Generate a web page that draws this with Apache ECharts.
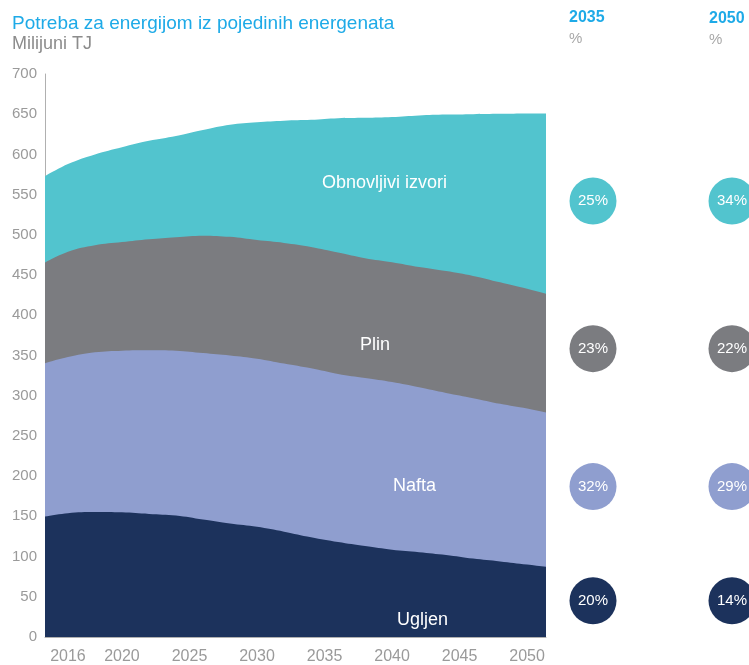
<!DOCTYPE html>
<html>
<head>
<meta charset="utf-8">
<script src="https://cdn.jsdelivr.net/npm/echarts@6/dist/echarts.min.js"></script>
<style>
  html, body { margin: 0; padding: 0; background: #fff; }
  #chart { width: 749px; height: 665px; }
</style>
</head>
<body>
<div id="chart"></div>
<script>
// godine (prva i zadnja točka izlaze malo izvan osi i odrežu se)
var years = [2014, 2016, 2018, 2020, 2022, 2024, 2026, 2028, 2030, 2032, 2034, 2036, 2038, 2040, 2042, 2044, 2046, 2048, 2050, 2052];
var ugljen = [149, 154, 155.5, 155, 153, 151, 146, 141, 137, 131, 124, 118, 113, 108.5, 105.5, 102, 97.5, 94, 90, 86];
var nafta = [190, 194, 198.5, 201, 203.5, 205, 207, 209, 209, 209, 210, 209, 209, 208.5, 205, 201.5, 199.5, 196, 194, 191];
var plin = [124, 131, 133, 135, 138, 141, 146, 147.5, 147.5, 150, 151, 151, 149, 149, 149.5, 151.5, 152, 151, 149, 147];
var obnovljivi = [107, 109, 113, 118, 122.5, 126, 131.5, 139.5, 146.5, 152, 158, 167, 174.5, 180.5, 188.5, 194.5, 201, 209.5, 218, 227];
var xTicks = [2016, 2020, 2025, 2030, 2035, 2040, 2045, 2050];
var pctYears = ['2035', '2050'];
var pct2035 = [20, 32, 23, 25]; // ugljen, nafta, plin, obnovljivi
var pct2050 = [14, 29, 22, 34];

var names = ['Ugljen', 'Nafta', 'Plin', 'Obnovljivi izvori'];
var layers = [ugljen, nafta, plin, obnovljivi];
var colors = ['#1c325c', '#8f9ecf', '#7b7c80', '#52c4ce'];
var font = '"Liberation Sans", Arial, sans-serif';

var myChart = echarts.init(document.getElementById('chart'));

// zbrojevi slojeva (gornji rub svakog sloja)
var cum = [];
layers.forEach(function (arr, i) {
    cum.push(arr.map(function (v, k) { return v + (i > 0 ? cum[i - 1][k] : 0); }));
});

var series = [];
// crtamo odozgo prema dolje, svaki sloj puni do nule
for (var i = layers.length - 1; i >= 0; i--) {
    series.push({
        name: names[i],
        type: 'line',
        smooth: 0.4,
        showSymbol: false,
        lineStyle: { width: 0 },
        areaStyle: { color: colors[i], opacity: 1 },
        itemStyle: { color: colors[i] },
        data: years.map(function (y, k) { return [y, cum[i][k]]; })
    });
}

// krugovi desno: visina = sredina sloja u 2050.
var idx = years.indexOf(2050);
layers.forEach(function (arr, i) {
    var mid = cum[i][idx] - arr[idx] / 2;
    series.push({
        type: 'scatter',
        xAxisIndex: 1,
        yAxisIndex: 1,
        symbolSize: 47,
        itemStyle: { color: colors[i], opacity: 1 },
        label: {
            show: true,
            position: 'inside',
            color: '#fff',
            fontFamily: font,
            fontSize: 15,
            formatter: function (p) { return p.value[2] + '%'; }
        },
        data: [[0, mid, pct2035[i]], [1, mid, pct2050[i]]]
    });
});

function txt(x, y, text, size, color, weight) {
    return {
        type: 'text', left: x, top: y, z: 10,
        style: {
            text: text, fill: color, fontSize: size, fontFamily: font,
            fontWeight: weight || 'normal'
        }
    };
}

myChart.setOption({
    backgroundColor: '#FFFFFF',
    animation: false,
    grid: [
        { left: 45, right: 203, top: 74, bottom: 28 },
        { left: 593, right: 17, top: 74, bottom: 28 }
    ],
    xAxis: [
        {
            type: 'value',
            min: 2014.3,
            max: 2051.4,
            splitLine: { show: false },
            axisTick: { show: false },
            axisLine: { show: true, lineStyle: { color: '#b0b0b0' } },
            axisLabel: {
                customValues: xTicks,
                color: '#9a9a9a',
                fontFamily: font,
                fontSize: 16,
                margin: 12,
                formatter: function (v) { return String(v); }
            }
        },
        {
            type: 'category',
            gridIndex: 1,
            boundaryGap: false,
            data: pctYears,
            show: false
        }
    ],
    yAxis: [
        {
            type: 'value',
            min: 0,
            max: 700,
            interval: 50,
            splitLine: { show: false },
            axisTick: { show: false },
            axisLine: { show: true, lineStyle: { color: '#b0b0b0' } },
            axisLabel: {
                color: '#9a9a9a',
                fontFamily: font,
                fontSize: 15,
                margin: 8
            }
        },
        { type: 'value', gridIndex: 1, min: 0, max: 700, show: false }
    ],
    graphic: [
        txt(12, 14, 'Potreba za energijom iz pojedinih energenata', 19, '#1eaae7'),
        txt(12, 35, 'Milijuni TJ', 18, '#8c8c8c'),
        txt(569, 10, '2035', 16, '#1eaae7', 'bold'),
        txt(569, 31, '%', 15, '#a8a8a8'),
        txt(709, 11, '2050', 16, '#1eaae7', 'bold'),
        txt(709, 32, '%', 15, '#a8a8a8'),
        txt(322, 174, 'Obnovljivi izvori', 18, '#ffffff'),
        txt(360, 336, 'Plin', 18, '#ffffff'),
        txt(393, 477, 'Nafta', 18, '#ffffff'),
        txt(397, 611, 'Ugljen', 18, '#ffffff')
    ],
    series: series
});
</script>
</body>
</html>
